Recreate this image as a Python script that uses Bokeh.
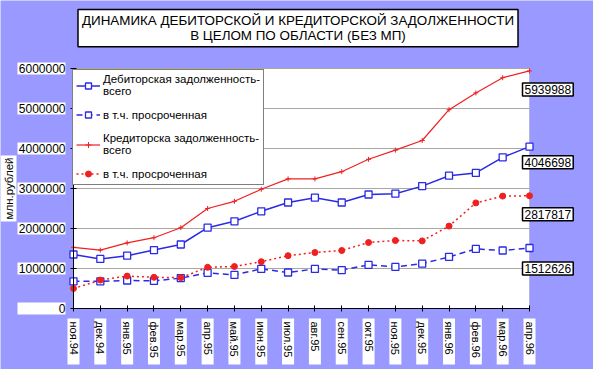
import math
from bokeh.plotting import figure
from bokeh.models import (Range1d, FixedTicker, ColumnDataSource, Legend, LegendItem,
                          BasicTickFormatter, Label, BoxAnnotation)
from bokeh.embed import file_html
from bokeh.resources import INLINE

# ---------------- data ----------------
months = ["ноя.94", "дек.94", "янв.95", "фев.95", "мар.95", "апр.95", "май.95",
          "июн.95", "июл.95", "авг.95", "сен.95", "окт.95", "ноя.95", "дек.95",
          "янв.96", "фев.96", "мар.96", "апр.96"]

debit_total = [1350000, 1240000, 1320000, 1460000, 1600000, 2020000, 2180000,
               2430000, 2650000, 2770000, 2650000, 2850000, 2870000, 3060000,
               3320000, 3390000, 3780000, 4046698]
debit_overdue = [680000, 680000, 700000, 690000, 760000, 890000, 840000,
                 990000, 900000, 990000, 960000, 1090000, 1040000, 1120000,
                 1290000, 1490000, 1450000, 1512626]
credit_total = [1530000, 1460000, 1640000, 1770000, 2020000, 2500000, 2680000,
                2980000, 3240000, 3240000, 3420000, 3730000, 3960000, 4200000,
                4970000, 5390000, 5770000, 5939988]
credit_overdue = [500000, 710000, 810000, 780000, 770000, 1030000, 1050000,
                  1170000, 1320000, 1400000, 1450000, 1650000, 1700000, 1690000,
                  2060000, 2640000, 2810000, 2817817]

y_ticks = [0, 1000000, 2000000, 3000000, 4000000, 5000000, 6000000]

title_text = "ДИНАМИКА ДЕБИТОРСКОЙ И КРЕДИТОРСКОЙ ЗАДОЛЖЕННОСТИ\nВ ЦЕЛОМ ПО ОБЛАСТИ (БЕЗ МП)"
y_title = "млн.рублей"
labels = ["Дебиторская задолженность-\nвсего", "в т.ч. просроченная",
          "Кредиторска задолженность-\nвсего", "в т.ч. просроченная"]

# ---------------- layout / style ----------------
FONT = "Liberation Sans"
BLUE = "#2A2AE6"
RED = "#F02020"
BG = "#9999FF"
GRID = "#A8A8A0"
W, H = 593, 369
PL, PR, PT, PB = 73, 529, 68, 308      # plot area in canvas pixels

n = len(months)
xs = list(range(n))
ymax = y_ticks[-1]
ux = (PR - PL) / (n - 1)               # px per x unit
uy = (PB - PT) / ymax                  # px per y unit


def dx(px):
    return px / ux


def dy(px):
    return px / uy


p = figure(width=W, height=H, output_backend="svg", toolbar_location=None,
           title=None, min_border=0,
           x_range=Range1d(-dx(PL), (n - 1) + dx(W - PR)),
           y_range=Range1d(-dy(H - PB), ymax + dy(PT)))
p.background_fill_color = BG
p.border_fill_color = BG
p.outline_line_color = None
p.xgrid.visible = False
p.ygrid.visible = False

# white plot area with grey border
p.add_layout(BoxAnnotation(left=0, right=n - 1, bottom=0, top=ymax,
                           fill_color="white", fill_alpha=1,
                           line_color="#808080", line_width=1,
                           level="underlay"))
# horizontal grid lines at the value ticks
p.segment(x0=[0] * len(y_ticks), x1=[n - 1] * len(y_ticks), y0=y_ticks,
          y1=y_ticks, line_color=GRID, line_width=1.2)

# white boxes behind the tick labels
p.rect(x=[-dx(32)] * len(y_ticks), y=y_ticks, width=48, height=12,
       width_units="screen", height_units="screen", fill_color="white",
       line_color=None)
p.rect(x=xs, y=[-dy(33)] * n, width=12, height=46, width_units="screen",
       height_units="screen", fill_color="white", line_color=None)

# axes drawn at the plot-area edges
xa = p.xaxis[0]
ya = p.yaxis[0]
for ax in (xa, ya):
    ax.fixed_location = 0
    ax.axis_line_color = "black"
    ax.axis_line_width = 1
    ax.major_tick_line_color = "black"
    ax.major_tick_in = 3
    ax.major_tick_out = 3
    ax.minor_tick_line_color = None
    ax.major_label_text_font = FONT
    ax.major_label_text_color = "black"

xa.bounds = (0, n - 1)
xa.ticker = FixedTicker(ticks=xs)
xa.major_label_overrides = {i: m for i, m in zip(xs, months)}
xa.major_label_orientation = "vertical"
xa.major_label_text_font_size = "11px"
xa.major_label_standoff = 10

ya.bounds = (0, ymax)
ya.ticker = FixedTicker(ticks=y_ticks)
ya.formatter = BasicTickFormatter(use_scientific=False)
ya.major_label_text_font_size = "12px"
ya.major_label_standoff = 5

src = ColumnDataSource(dict(x=xs, dt=debit_total, do=debit_overdue,
                            ct=credit_total, co=credit_overdue))

r_dt = p.line("x", "dt", source=src, line_color=BLUE, line_width=1.5)
m_dt = p.scatter("x", "dt", source=src, marker="square", size=7,
                 fill_color="white", line_color=BLUE, line_width=1.3)
r_do = p.line("x", "do", source=src, line_color=BLUE, line_width=1.5,
              line_dash="6 4")
m_do = p.scatter("x", "do", source=src, marker="square", size=7,
                 fill_color="white", line_color=BLUE, line_width=1.3)
r_ct = p.line("x", "ct", source=src, line_color=RED, line_width=1.2)
m_ct = p.scatter("x", "ct", source=src, marker="cross", size=5,
                 line_color=RED, line_width=1)
r_co = p.line("x", "co", source=src, line_color=RED, line_width=1.5,
              line_dash="2 3")
m_co = p.scatter("x", "co", source=src, marker="circle", size=6,
                 fill_color=RED, line_color=RED)

LEG_H = 117
legend = Legend(items=[
    LegendItem(label=labels[0], renderers=[r_dt, m_dt]),
    LegendItem(label=labels[1], renderers=[r_do, m_do]),
    LegendItem(label=labels[2], renderers=[r_ct, m_ct]),
    LegendItem(label=labels[3], renderers=[r_co, m_co]),
], location=(PL - 1, H - PT - LEG_H))
legend.margin = 0
legend.padding = 3
legend.spacing = 10
legend.glyph_width = 24
legend.glyph_height = 15
legend.label_standoff = 3
legend.label_text_font = FONT
legend.label_text_font_size = "11.5px"
legend.label_text_color = "black"
legend.border_line_color = "black"
legend.border_line_width = 1
legend.background_fill_color = "white"
legend.background_fill_alpha = 1
p.add_layout(legend)

# chart title in a white box
p.add_layout(Label(x=dx(297.5 - PL), y=ymax + dy(PT - 27.5), text=title_text,
                   text_align="center", text_baseline="middle", text_font=FONT,
                   text_font_size="13.4px", text_color="black",
                   text_line_height=0.95, background_fill_color="white",
                   border_line_color="black", border_line_width=1.5, padding=4))

# y-axis title in a white box
p.add_layout(Label(x=-dx(PL - 8), y=ymax / 2, text=y_title, angle=math.pi / 2,
                   text_align="center", text_baseline="middle", text_font=FONT,
                   text_font_size="11.5px", text_color="black",
                   background_fill_color="white", padding=2))

# boxed end values of each series
end_offsets = [-12, -9, -12, -14]
for series, off in zip((credit_total, debit_total, credit_overdue, debit_overdue),
                       end_offsets):
    p.add_layout(Label(x=n - 1, y=series[-1], text=str(series[-1]),
                       x_offset=-7, y_offset=off, text_align="left",
                       text_baseline="top", text_font=FONT,
                       text_font_size="12px", text_color="black",
                       background_fill_color="white", border_line_color="black",
                       border_line_width=1.5, padding=2))

open("out.html", "w").write(file_html(p, INLINE))
